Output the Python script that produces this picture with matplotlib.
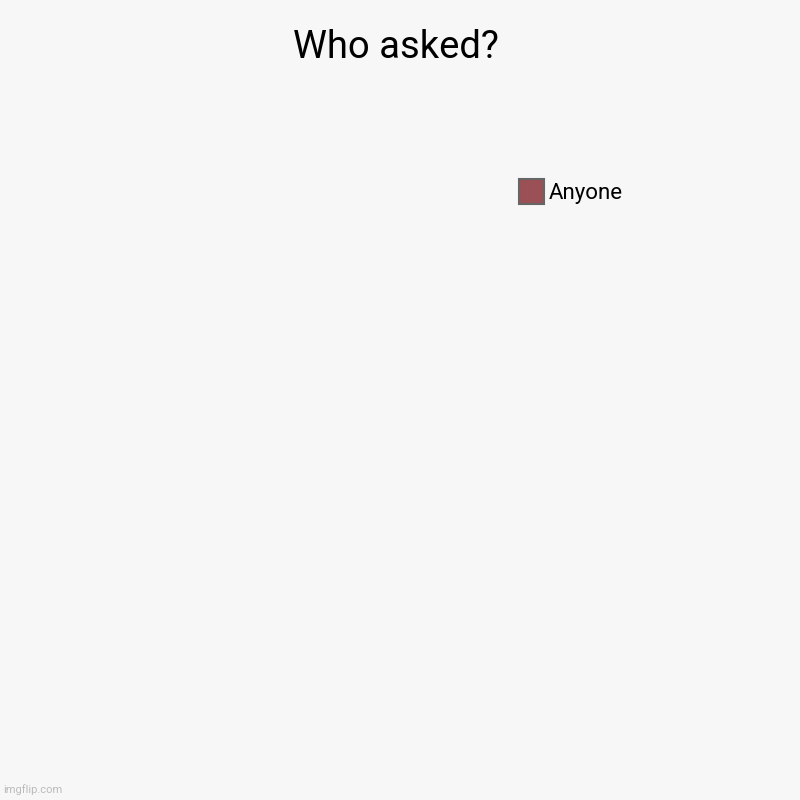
import matplotlib.pyplot as plt
from matplotlib.patches import Patch

plt.rcParams['font.family'] = ['Roboto', 'DejaVu Sans']

title = "Who asked?"
categories = ["Anyone"]
values = [0]
colors = ["#9b5055"]

fig = plt.figure(figsize=(8, 8), dpi=100, facecolor="#f7f7f7")
ax = fig.add_axes([0.05, 0.05, 0.6, 0.78])
ax.set_facecolor("#f7f7f7")
ax.axis("off")

# every wedge is zero, so the pie has nothing to draw
if sum(values) > 0:
    ax.pie(values, colors=colors, startangle=90, counterclock=False)

handles = [Patch(facecolor=c, edgecolor="#666666", linewidth=1.5) for c in colors]
fig.legend(handles, categories, loc="upper left", bbox_to_anchor=(0.649, 0.776),
           frameon=False, fontsize=16, handlelength=1.1, handleheight=1.36,
           handletextpad=0.25, borderpad=0, borderaxespad=0)

fig.text(0.495, 0.94, title, ha="center", va="center", fontsize=27.5)
fig.text(0.004, 0.006, "imgflip.com", ha="left", va="bottom", fontsize=8, color="#bbbbbb")

fig.savefig("out.png", dpi=100, facecolor=fig.get_facecolor())
